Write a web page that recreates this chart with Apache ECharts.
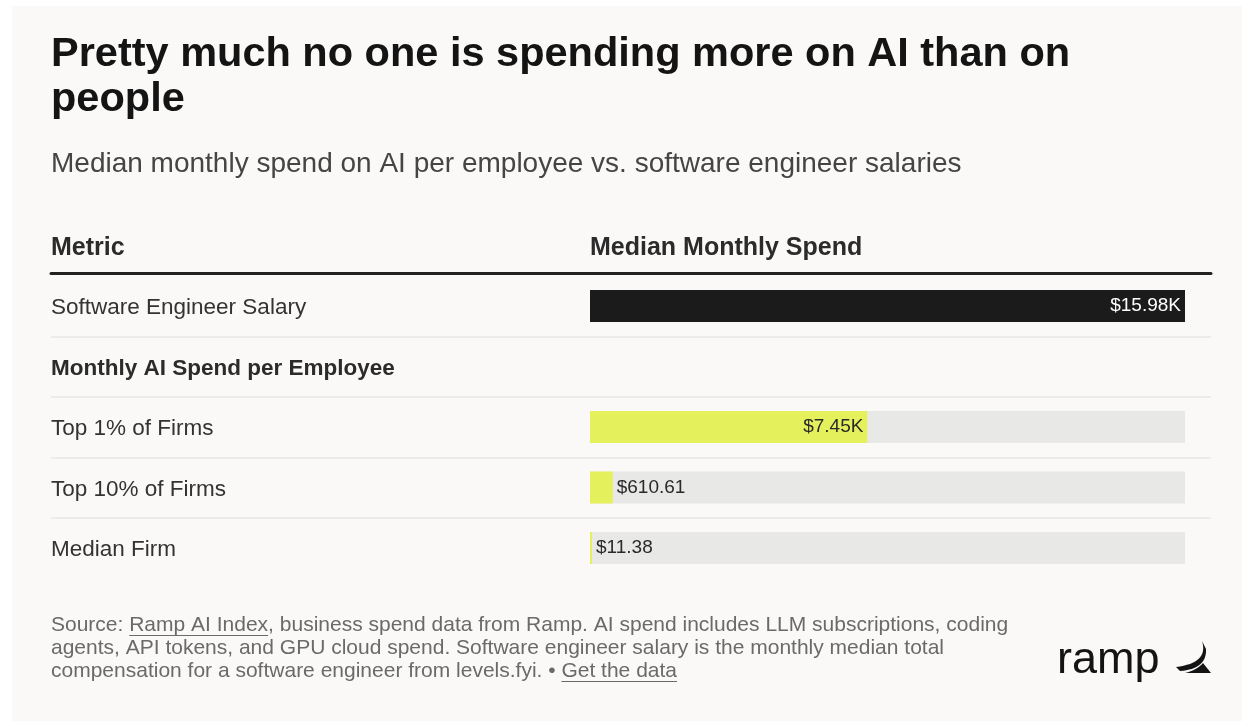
<!DOCTYPE html>
<html>
<head>
<meta charset="utf-8">
<title>Pretty much no one is spending more on AI than on people</title>
<script src="https://cdn.jsdelivr.net/npm/echarts@6/dist/echarts.min.js"></script>
<style>
  html, body { margin: 0; padding: 0; background: #fff; }
  #chart { width: 1258px; height: 726px; }
</style>
</head>
<body>
<div id="chart"></div>
<script>
// table rows, top to bottom
const categories = ['Software Engineer Salary', 'Monthly AI Spend per Employee', 'Top 1% of Firms', 'Top 10% of Firms', 'Median Firm'];
// rows that are group headings (bold, no bar)
const groupRows = ['Monthly AI Spend per Employee'];
// rows that get the grey track behind the bar
const trackRows = ['Top 1% of Firms', 'Top 10% of Firms', 'Median Firm'];
// median monthly spend in USD
const salaryValues = [15980, '-', '-', '-', '-'];
const aiSpendValues = ['-', '-', 7450, 610.61, 11.38];

const FONT = '"Liberation Sans", Arial, sans-serif';
const footLines = [
  'Source: Ramp AI Index, business spend data from Ramp. AI spend includes LLM subscriptions, coding',
  'agents, API tokens, and GPU cloud spend. Software engineer salary is the monthly median total',
  'compensation for a software engineer from levels.fyi. \u2022 Get the data'
];
const footLinks = [[0, 'Ramp AI Index'], [2, 'Get the data']];

const chartDom = document.getElementById('chart');
const myChart = echarts.init(chartDom);

// scale max = largest value shown
const axisMax = Math.max(...salaryValues.filter(v => v !== '-'));
const trackValues = categories.map(c => trackRows.indexOf(c) >= 0 ? axisMax : '-');

function money(v) {
  return v >= 1000 ? '$' + (v / 1000).toFixed(2) + 'K' : '$' + v.toFixed(2);
}

// small labels sit outside the bar, long ones inside
const aiData = aiSpendValues.map(v => v === '-' ? '-' : {
  value: v,
  label: { position: v / axisMax > 0.1 ? 'insideRight' : 'right' }
});

// underline links in the footnote, measured with the same font
const measure = document.createElement('canvas').getContext('2d');
const footFont = '21px ' + FONT;
measure.font = footFont;
const FOOT_X = 51, FOOT_Y = 625, FOOT_LH = 23;
const underlines = footLinks.map(([line, word]) => {
  const t = footLines[line];
  const x0 = FOOT_X + measure.measureText(t.slice(0, t.indexOf(word))).width;
  const x1 = x0 + measure.measureText(word).width;
  const y = FOOT_Y + line * FOOT_LH + 10.5;
  return { type: 'line', shape: { x1: x0, y1: y, x2: x1, y2: y }, style: { stroke: '#6a6a6a', lineWidth: 1.2 } };
});

// quadratic curve -> points, for the logo mark
function quad(p0, c, p1, n) {
  const pts = [];
  for (let i = 0; i <= n; i++) {
    const t = i / n, u = 1 - t;
    pts.push([u * u * p0[0] + 2 * u * t * c[0] + t * t * p1[0], u * u * p0[1] + 2 * u * t * c[1] + t * t * p1[1]]);
  }
  return pts;
}
const swoosh = quad([1202, 641], [1209, 663], [1176, 667], 16).concat(quad([1180, 671], [1207, 669], [1206, 649], 16));
const wedge = [[1185, 673], [1211, 673], [1203, 663]].concat(quad([1203, 663], [1197, 670], [1185, 673], 8));

function txt(x, y, text, font, fill, align) {
  return { type: 'text', style: { x: x, y: y, text: text, font: font, fill: fill, align: align || 'left', verticalAlign: 'middle' } };
}

const graphics = [
  { type: 'rect', z: -10, shape: { x: 12, y: 6, width: 1230, height: 715 }, style: { fill: '#faf9f7' } },
  txt(51, 55, 'Pretty much no one is spending more on AI than on', 'bold 41.5px ' + FONT, '#141414'),
  txt(51, 100, 'people', 'bold 41.5px ' + FONT, '#141414'),
  txt(51, 164, 'Median monthly spend on AI per employee vs. software engineer salaries', '28px ' + FONT, '#454545'),
  txt(51, 248, 'Metric', 'bold 25px ' + FONT, '#2b2b2b'),
  txt(590, 248, 'Median Monthly Spend', 'bold 25px ' + FONT, '#2b2b2b'),
  txt(1057, 661, 'ramp', '45px ' + FONT, '#141414'),
  { type: 'polygon', shape: { points: swoosh }, style: { fill: '#141414' } },
  { type: 'polygon', shape: { points: wedge }, style: { fill: '#141414' } }
];
footLines.forEach((line, i) => graphics.push(txt(FOOT_X, FOOT_Y + i * FOOT_LH, line, footFont, '#6a6a6a')));
underlines.forEach(u => graphics.push(u));

const option = {
  backgroundColor: '#ffffff',
  animation: false,
  grid: [
    { left: 51, right: 47, top: 275.75, height: 302.5 },
    { left: 590, right: 73, top: 275.75, height: 302.5 }
  ],
  xAxis: [
    {
      gridIndex: 0, type: 'value', position: 'top', offset: 3, min: 0, max: 1,
      axisLine: { show: true, lineStyle: { color: '#222', width: 3 } },
      axisTick: { show: false }, axisLabel: { show: false }, splitLine: { show: false }
    },
    { gridIndex: 1, type: 'value', min: 0, max: axisMax, show: false }
  ],
  yAxis: [
    {
      gridIndex: 0, type: 'category', data: categories, inverse: true,
      axisLine: { show: false }, axisTick: { show: false },
      splitLine: { show: true, showMinLine: false, showMaxLine: false, lineStyle: { color: '#e7e6e3', width: 1.5 } },
      axisLabel: {
        margin: 0, align: 'left', padding: [4, 0, 0, 0], fontFamily: FONT, fontSize: 22.5, color: '#333',
        formatter: v => groupRows.indexOf(v) >= 0 ? '{b|' + v + '}' : v,
        rich: { b: { fontFamily: FONT, fontSize: 22.5, fontWeight: 'bold', color: '#2b2b2b' } }
      }
    },
    { gridIndex: 1, type: 'category', data: categories, inverse: true, show: false }
  ],
  series: [
    {
      type: 'bar', name: 'track', xAxisIndex: 1, yAxisIndex: 1, data: trackValues,
      barWidth: 32, barGap: '-100%', silent: true, z: 1,
      itemStyle: { color: '#e8e8e6' }
    },
    {
      type: 'bar', name: 'Software engineer salary', xAxisIndex: 1, yAxisIndex: 1, data: salaryValues,
      barWidth: 32, barGap: '-100%', z: 2,
      itemStyle: { color: '#1b1b1b' },
      label: { show: true, position: 'insideRight', distance: 4, color: '#ffffff', fontFamily: FONT, fontSize: 19, formatter: p => money(p.value) }
    },
    {
      type: 'bar', name: 'Monthly AI spend per employee', xAxisIndex: 1, yAxisIndex: 1, data: aiData,
      barWidth: 32, barGap: '-100%', barMinHeight: 2, z: 3,
      itemStyle: { color: '#e5f15c' },
      label: { show: true, distance: 4, color: '#2a2a2a', fontFamily: FONT, fontSize: 19, formatter: p => money(p.value) }
    }
  ],
  graphic: { elements: graphics }
};

option && myChart.setOption(option);
</script>
</body>
</html>
